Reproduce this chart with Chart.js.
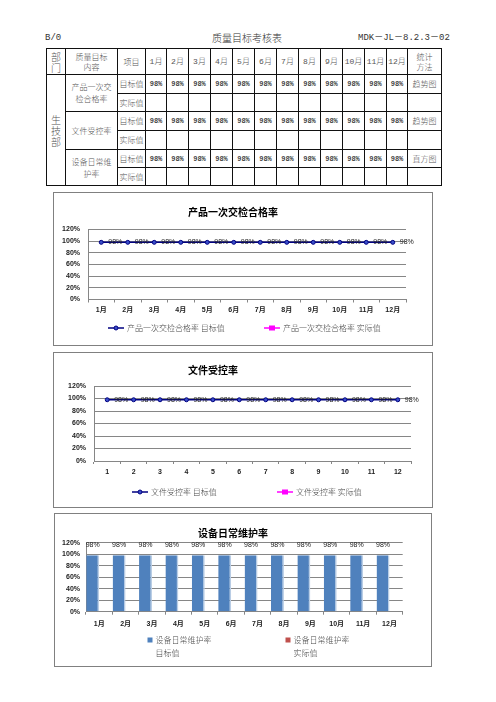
<!DOCTYPE html>
<html>
<head>
<meta charset="utf-8">
<title>质量目标考核表</title>
<script src="https://cdn.jsdelivr.net/npm/chart.js@4.4.1/dist/chart.umd.min.js"></script>
<style>
  body { margin: 0; background: #fff; width: 496px; height: 702px; position: relative; overflow: hidden;
         font-family: "Noto Sans CJK SC", sans-serif; }
  .hdr { position: absolute; top: 32px; font-size: 10px; line-height: 12px; color: #333; font-weight: 300; }
  .mono { font-family: "Liberation Mono", "Noto Sans CJK SC", monospace; font-size: 9px; font-weight: normal; }
  table { position: absolute; left: 46px; top: 48px; border-collapse: collapse; table-layout: fixed; }
  td { border: 1px solid #111; padding: 0; text-align: center; vertical-align: middle; font-weight: 300;
       font-size: 8px; line-height: 10px; color: #555; overflow: hidden; white-space: nowrap; }
  td.big { font-size: 10px; line-height: 11px; }
  td.num { font-family: "Liberation Mono", monospace; font-weight: bold; font-size: 7px; color: #444; }
  td.mon span { font-family: "Liberation Mono", monospace; }
  .frame { position: absolute; border: 1px solid #808080; background: #fff; }
  .frame canvas { display: block; }
</style>
</head>
<body>

<div class="hdr mono" style="left:45px;">B/0</div>
<div class="hdr" style="left:212px;">质量目标考核表</div>
<div class="hdr mono" style="left:358px;">MDK－JL－8.2.3－02</div>

<table id="kpi">
  <colgroup>
    <col style="width:19px"><col style="width:52px"><col style="width:28px">
    <col style="width:21px"><col style="width:22px"><col style="width:22px"><col style="width:22px">
    <col style="width:22px"><col style="width:22px"><col style="width:22px"><col style="width:22px">
    <col style="width:22px"><col style="width:22px"><col style="width:22px"><col style="width:21px">
    <col style="width:34px">
  </colgroup>
  <tbody id="kpi-body"></tbody>
</table>

<div class="frame" style="left:53px;top:192px;"><canvas id="chartPass" width="378" height="152"></canvas></div>
<div class="frame" style="left:53px;top:352px;"><canvas id="chartDoc" width="378" height="154"></canvas></div>
<div class="frame" style="left:54px;top:513px;"><canvas id="chartMaint" width="376" height="152"></canvas></div>

<script>
// categories
const monthLabels = ['1月', '2月', '3月', '4月', '5月', '6月', '7月', '8月', '9月', '10月', '11月', '12月'];
const monthNumbers = ['1', '2', '3', '4', '5', '6', '7', '8', '9', '10', '11', '12'];

// 产品一次交检合格率
const passTarget = [98, 98, 98, 98, 98, 98, 98, 98, 98, 98, 98, 98];
const passActual = [null, null, null, null, null, null, null, null, null, null, null, null];

// 文件受控率
const docTarget = [98, 98, 98, 98, 98, 98, 98, 98, 98, 98, 98, 98];
const docActual = [null, null, null, null, null, null, null, null, null, null, null, null];

// 设备日常维护率
const maintTarget = [98, 98, 98, 98, 98, 98, 98, 98, 98, 98, 98, 98];
const maintActual = [null, null, null, null, null, null, null, null, null, null, null, null];

// y axis: 0% .. 120%
const yMin = 0, yMax = 120, yStep = 20;

// ---- table ----
function pctCells(values) {
    return values.map(v => v == null ? '<td></td>' : `<td class="num">${v}%</td>`).join('');
}

const rowH = [26, 19, 18, 19, 19, 18, 18];
let html = `<tr style="height:${rowH[0]}px">
  <td class="big">部<br>门</td><td>质量目标<br>内容</td><td>项目</td>
  ${monthLabels.map(m => `<td class="mon"><span>${m.replace('月', '')}</span>月</td>`).join('')}
  <td>统计<br>方法</td></tr>`;

const tableRows = [
    { name: '产品一次交<br>检合格率', target: passTarget, actual: passActual, method: '趋势图' },
    { name: '文件受控率', target: docTarget, actual: docActual, method: '趋势图' },
    { name: '设备日常维<br>护率', target: maintTarget, actual: maintActual, method: '直方图' }
];
tableRows.forEach((r, i) => {
    html += `<tr style="height:${rowH[1 + i * 2]}px">`;
    if (i === 0) html += '<td class="big" rowspan="6">生<br>技<br>部</td>';
    html += `<td rowspan="2" style="line-height:12px">${r.name}</td><td>目标值</td>${pctCells(r.target)}<td>${r.method}</td></tr>`;
    html += `<tr style="height:${rowH[2 + i * 2]}px"><td>实际值</td>${pctCells(r.actual)}<td></td></tr>`;
});
document.getElementById('kpi-body').innerHTML = html;

// ---- chart helpers ----
const tickFont = { family: '"Liberation Sans", "Noto Sans CJK SC", sans-serif', size: 7, weight: 'bold' };
const gridGray = '#868686';

// title drawn at a free position, like the spreadsheet chart
const freeTitle = {
    id: 'freeTitle',
    afterDraw(chart, args, opts) {
        const ctx = chart.ctx;
        ctx.save();
        ctx.font = 'bold 10px "Noto Sans CJK SC", sans-serif';
        ctx.fillStyle = '#000';
        ctx.textAlign = 'center';
        ctx.textBaseline = 'middle';
        ctx.fillText(opts.text, opts.x, opts.y);
        ctx.restore();
    }
};

// value labels of the first dataset
const valueLabels = {
    id: 'valueLabels',
    afterDatasetsDraw(chart, args, opts) {
        const ctx = chart.ctx;
        const meta = chart.getDatasetMeta(0);
        const data = chart.data.datasets[0].data;
        ctx.save();
        ctx.font = '7px "Liberation Sans", sans-serif';
        ctx.fillStyle = '#222';
        ctx.textBaseline = 'middle';
        meta.data.forEach((el, i) => {
            if (data[i] == null) return;
            if (opts.side === 'right') {
                ctx.textAlign = 'left';
                ctx.fillText(data[i] + '%', el.x + 7, el.y);
            } else {
                ctx.textAlign = 'center';
                ctx.fillText(data[i] + '%', el.x, el.y - 10);
            }
        });
        ctx.restore();
    }
};

// legend placed like the original (line+marker or small square)
const freeLegend = {
    id: 'freeLegend',
    afterDraw(chart, args, opts) {
        const ctx = chart.ctx;
        ctx.save();
        ctx.font = '300 8px "Noto Sans CJK SC", sans-serif';
        ctx.textAlign = 'left';
        ctx.textBaseline = 'middle';
        chart.data.datasets.forEach((ds, i) => {
            const x = opts.x[i], y = opts.y;
            let tx;
            if (opts.kind === 'line') {
                ctx.strokeStyle = ds.borderColor;
                ctx.lineWidth = 1.5;
                ctx.beginPath(); ctx.moveTo(x, y); ctx.lineTo(x + 16, y); ctx.stroke();
                ctx.fillStyle = ds.pointBackgroundColor;
                if (ds.pointStyle === 'rect') {
                    ctx.fillRect(x + 5, y - 2.5, 6, 5);
                } else {
                    ctx.beginPath(); ctx.arc(x + 8, y, 2, 0, Math.PI * 2); ctx.fill();
                    ctx.strokeStyle = ds.pointBorderColor; ctx.lineWidth = 1; ctx.stroke();
                }
                tx = x + 19;
            } else {
                ctx.fillStyle = ds.backgroundColor;
                ctx.fillRect(x, y - 2.5, 5, 5);
                tx = x + 8;
            }
            ctx.fillStyle = '#444';
            ds.label.split('\n').forEach((line, k) => ctx.fillText(line, tx, y + k * 12.5));
        });
        ctx.restore();
    }
};

function yScale(width, pad) {
    return {
        min: yMin, max: yMax,
        ticks: { stepSize: yStep, padding: pad, font: tickFont, color: '#222', callback: v => v + '%' },
        grid: { color: gridGray, drawTicks: false },
        border: { color: gridGray },
        afterFit(s) { s.width = width; }
    };
}

function xScale(labels, pad) {
    return {
        type: 'category',
        labels: labels,
        offset: true,
        ticks: { padding: pad, font: tickFont, color: '#222', maxRotation: 0, autoSkip: false },
        grid: { offset: true, drawOnChartArea: false, drawTicks: true, tickLength: 3, color: gridGray },
        border: { color: gridGray },
        afterFit(s) { s.height = 16; }
    };
}

function lineChart(id, labels, target, actual, names, box) {
    const canvas = document.getElementById(id);
    return new Chart(canvas, {
        type: 'line',
        data: {
            labels: labels,
            datasets: [{
                label: names[0],
                data: target,
                borderColor: '#000080',
                borderWidth: 1.5,
                pointStyle: 'circle',
                pointRadius: 2,
                pointBorderWidth: 1,
                pointBackgroundColor: '#3a4fc8',
                pointBorderColor: '#000080'
            }, {
                label: names[1],
                data: actual,
                borderColor: '#ff00ff',
                borderWidth: 1.5,
                pointStyle: 'rect',
                pointRadius: 3,
                pointBackgroundColor: '#ff00ff',
                pointBorderColor: '#ff00ff'
            }]
        },
        options: {
            responsive: false,
            animation: false,
            layout: { padding: box.padding },
            scales: { x: xScale(labels, box.xPad), y: yScale(box.yWidth, box.yPad) },
            plugins: {
                legend: { display: false },
                tooltip: { enabled: false },
                freeTitle: box.title,
                valueLabels: { side: 'right' },
                freeLegend: box.legend
            }
        },
        plugins: [freeTitle, valueLabels, freeLegend]
    });
}

// ---- 产品一次交检合格率 ----
lineChart('chartPass', monthLabels, passTarget, passActual,
    ['产品一次交检合格率 目标值', '产品一次交检合格率 实际值'], {
        padding: { left: 4, top: 36.5, right: 26, bottom: 29.5 },
        yWidth: 30, yPad: 8, xPad: 3,
        title: { text: '产品一次交检合格率', x: 179, y: 19 },
        legend: { kind: 'line', x: [54, 210], y: 135 }
    });

// ---- 文件受控率 ----
lineChart('chartDoc', monthNumbers, docTarget, docActual,
    ['文件受控率 目标值', '文件受控率 实际值'], {
        padding: { left: 10, top: 33, right: 21, bottom: 30 },
        yWidth: 30, yPad: 8, xPad: 3.5,
        title: { text: '文件受控率', x: 159, y: 17 },
        legend: { kind: 'line', x: [78, 223], y: 139 }
    });

// ---- 设备日常维护率 ----
new Chart(document.getElementById('chartMaint'), {
    type: 'bar',
    data: {
        labels: monthLabels,
        datasets: [{
            label: '设备日常维护率\n目标值',
            data: maintTarget,
            backgroundColor: '#4f81bd',
            borderColor: '#b9cde5',
            borderWidth: { top: 0, right: 1.5, bottom: 0, left: 0 },
            borderSkipped: false
        }, {
            label: '设备日常维护率\n实际值',
            data: maintActual,
            backgroundColor: '#c0504d'
        }]
    },
    options: {
        responsive: false,
        animation: false,
        layout: { padding: { left: 1, top: 28.7, right: 28.3, bottom: 38.3 } },
        datasets: { bar: { categoryPercentage: 0.98, barPercentage: 1 } },
        scales: {
            x: xScale(monthLabels, 5),
            y: yScale(30, 6)
        },
        plugins: {
            legend: { display: false },
            tooltip: { enabled: false },
            freeTitle: { text: '设备日常维护率', x: 178, y: 19 },
            valueLabels: { side: 'top' },
            freeLegend: { kind: 'box', x: [92.5, 230.5], y: 126 }
        }
    },
    plugins: [freeTitle, valueLabels, freeLegend]
});
</script>
</body>
</html>
